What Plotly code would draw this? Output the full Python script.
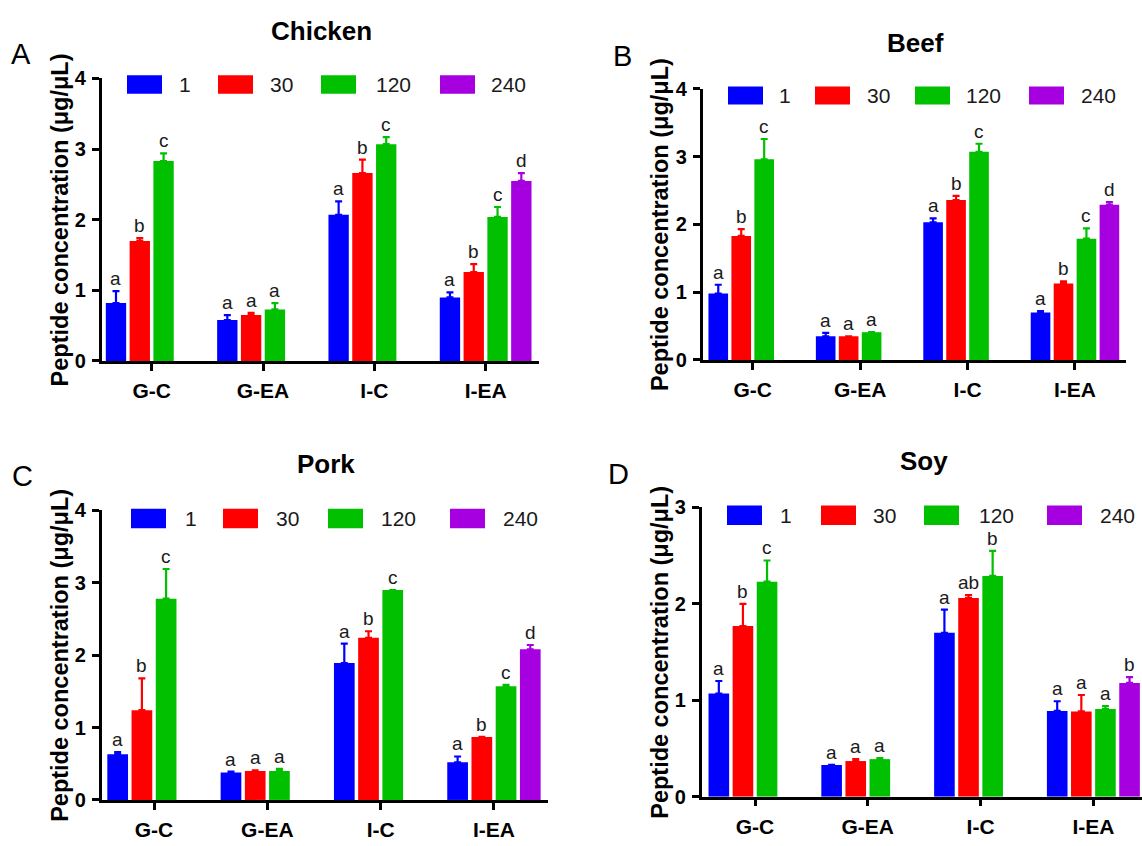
import plotly.graph_objects as go

W, H = 1142, 846
FONT = "Liberation Sans, Arial, sans-serif"

categories = ["G-C", "G-EA", "I-C", "I-EA"]
series_names = ["1", "30", "120", "240"]
series_colors = ["#0000FF", "#FF0000", "#00C000", "#A600E0"]

# ---- Chicken: means, upper SD, letters ----
chicken_1 = [0.82, 0.58, 2.07, 0.90]
chicken_30 = [1.70, 0.65, 2.66, 1.26]
chicken_120 = [2.83, 0.73, 3.07, 2.04]
chicken_240 = [None, None, None, 2.55]
chicken_sd_1 = [0.17, 0.07, 0.19, 0.07]
chicken_sd_30 = [0.04, 0.03, 0.19, 0.11]
chicken_sd_120 = [0.11, 0.09, 0.10, 0.14]
chicken_sd_240 = [0, 0, 0, 0.11]
chicken_let_1 = ["a", "a", "a", "a"]
chicken_let_30 = ["b", "a", "b", "b"]
chicken_let_120 = ["c", "a", "c", "c"]
chicken_let_240 = ["", "", "", "d"]

# ---- Beef ----
beef_1 = [0.98, 0.35, 2.03, 0.70]
beef_30 = [1.83, 0.35, 2.36, 1.13]
beef_120 = [2.96, 0.41, 3.07, 1.79]
beef_240 = [None, None, None, 2.29]
beef_sd_1 = [0.13, 0.05, 0.06, 0.02]
beef_sd_30 = [0.10, 0.0, 0.06, 0.03]
beef_sd_120 = [0.30, 0.0, 0.12, 0.15]
beef_sd_240 = [0, 0, 0, 0.04]
beef_let_1 = ["a", "a", "a", "a"]
beef_let_30 = ["b", "a", "b", "b"]
beef_let_120 = ["c", "a", "c", "c"]
beef_let_240 = ["", "", "", "d"]

# ---- Pork ----
pork_1 = [0.63, 0.38, 1.89, 0.52]
pork_30 = [1.24, 0.40, 2.24, 0.87]
pork_120 = [2.78, 0.40, 2.90, 1.57]
pork_240 = [None, None, None, 2.08]
pork_sd_1 = [0.03, 0.01, 0.27, 0.08]
pork_sd_30 = [0.44, 0.01, 0.09, 0.0]
pork_sd_120 = [0.41, 0.03, 0.0, 0.02]
pork_sd_240 = [0, 0, 0, 0.06]
pork_let_1 = ["a", "a", "a", "a"]
pork_let_30 = ["b", "a", "b", "b"]
pork_let_120 = ["c", "a", "c", "c"]
pork_let_240 = ["", "", "", "d"]

# ---- Soy ----
soy_1 = [1.07, 0.33, 1.70, 0.89]
soy_30 = [1.77, 0.37, 2.06, 0.885]
soy_120 = [2.23, 0.39, 2.29, 0.91]
soy_240 = [None, None, None, 1.18]
soy_sd_1 = [0.13, 0.0, 0.24, 0.10]
soy_sd_30 = [0.23, 0.02, 0.03, 0.17]
soy_sd_120 = [0.22, 0.01, 0.26, 0.03]
soy_sd_240 = [0, 0, 0, 0.06]
soy_let_1 = ["a", "a", "a", "a"]
soy_let_30 = ["b", "a", "ab", "a"]
soy_let_120 = ["c", "a", "b", "a"]
soy_let_240 = ["", "", "", "b"]

panel_titles = ["Chicken", "Beef", "Pork", "Soy"]
panel_letters = ["A", "B", "C", "D"]
y_ticks = [[0, 1, 2, 3, 4], [0, 1, 2, 3, 4], [0, 1, 2, 3, 4], [0, 1, 2, 3]]

BARGAP = 0.145
GROUPGAP = 0.145


def px(x):
    return x / W


def py(y):
    return 1 - y / H


# Pixel layout of each panel: plot box, x range, and decoration anchors
layouts = [
    dict(x0=101.7, x1=539.3, y0=359.3, y1=69.3, xr=[-0.449, 3.482],
         title=(321, 21), letter=(21, 44),
         sw=[127, 218, 321, 440], tx=[177, 268, 374, 489], ly=(66, 85)),
    dict(x0=702.7, x1=1126.0, y0=358.3, y1=79.9, xr=[-0.4655, 3.475],
         title=(915, 33), letter=(622, 46),
         sw=[728, 815, 915, 1029], tx=[777, 865, 964, 1079], ly=(77.5, 96)),
    dict(x0=101.7, x1=548.0, y0=810.0, y1=512.7, xr=[-0.4616, 3.477],
         title=(326, 465), letter=(22, 477),
         sw=[131, 223, 328, 450], tx=[183, 274, 379, 501], ly=(511, 531)),
    dict(x0=701.7, x1=1142.0, y0=806.7, y1=509.7, xr=[-0.4725, 3.431],
         title=(924, 462), letter=(619, 475),
         sw=[727, 821, 924, 1047], tx=[778, 871, 977, 1098], ly=(507.6, 527.6)),
]

panel_means = [
    [chicken_1, chicken_30, chicken_120, chicken_240],
    [beef_1, beef_30, beef_120, beef_240],
    [pork_1, pork_30, pork_120, pork_240],
    [soy_1, soy_30, soy_120, soy_240],
]
panel_sds = [
    [chicken_sd_1, chicken_sd_30, chicken_sd_120, chicken_sd_240],
    [beef_sd_1, beef_sd_30, beef_sd_120, beef_sd_240],
    [pork_sd_1, pork_sd_30, pork_sd_120, pork_sd_240],
    [soy_sd_1, soy_sd_30, soy_sd_120, soy_sd_240],
]
panel_lets = [
    [chicken_let_1, chicken_let_30, chicken_let_120, chicken_let_240],
    [beef_let_1, beef_let_30, beef_let_120, beef_let_240],
    [pork_let_1, pork_let_30, pork_let_120, pork_let_240],
    [soy_let_1, soy_let_30, soy_let_120, soy_let_240],
]

fig = go.Figure()
annotations = []
shapes = []
layout_axes = {}

n_series = len(series_names)
slot = (1 - BARGAP) / n_series

for k in range(4):
    L = layouts[k]
    sfx = "" if k == 0 else str(k + 1)
    xa, ya = "x" + sfx, "y" + sfx

    for i in range(n_series):
        means = panel_means[k][i]
        sds = panel_sds[k][i]
        fig.add_trace(go.Bar(
            x=categories, y=means, name=series_names[i],
            marker=dict(color=series_colors[i], line=dict(width=0)),
            error_y=dict(type="data", symmetric=False, array=sds,
                         arrayminus=[0] * len(sds), color=series_colors[i],
                         thickness=2.2, width=3.5),
            xaxis=xa, yaxis=ya, showlegend=False, offsetgroup=str(i),
        ))
        # significance letters above each error bar
        for c, (m, s, t) in enumerate(zip(means, sds, panel_lets[k][i])):
            if m is None or not t:
                continue
            xc = c - (1 - BARGAP) / 2 + (i + 0.5) * slot
            annotations.append(dict(
                x=xc, y=m + s, xref=xa, yref=ya, text=t, showarrow=False,
                xanchor="center", yanchor="bottom", yshift=0,
                font=dict(family=FONT, size=19, color="#1a1a1a"),
            ))

    yt = y_ticks[k]
    layout_axes["xaxis" + sfx] = dict(
        domain=[px(L["x0"]), px(L["x1"])], anchor=ya, type="category",
        range=L["xr"], showline=True, linecolor="black", linewidth=2.5,
        ticks="outside", ticklen=7, tickwidth=2.5, tickcolor="black",
        showgrid=False, zeroline=False, ticklabelstandoff=2,
        tickfont=dict(family=FONT, size=21, color="black", weight="bold"),
    )
    layout_axes["yaxis" + sfx] = dict(
        domain=[py(L["y0"]), py(L["y1"])], anchor=xa,
        range=[yt[0], yt[-1]], tickvals=yt, showline=True, linecolor="black",
        linewidth=2.5, ticks="outside", ticklen=7, tickwidth=2.5,
        tickcolor="black", showgrid=False, zeroline=False, ticklabelstandoff=2,
        tickfont=dict(family=FONT, size=20, color="black", weight="bold"),
    )

    # panel title
    annotations.append(dict(
        x=px(L["title"][0]), y=py(L["title"][1]), xref="paper", yref="paper",
        text=panel_titles[k], showarrow=False, xanchor="center", yanchor="middle",
        font=dict(family=FONT, size=26, color="black", weight="bold"),
    ))
    # panel letter
    annotations.append(dict(
        x=px(L["letter"][0]), y=py(L["letter"][1]), xref="paper", yref="paper",
        text=panel_letters[k], showarrow=False, xanchor="center", yanchor="middle",
        font=dict(family=FONT, size=29, color="black"),
    ))
    # y axis title
    annotations.append(dict(
        x=px(L["x0"] - 42), y=py((L["y0"] + L["y1"]) / 2), xref="paper",
        yref="paper", text="Peptide concentration (μg/μL)", showarrow=False,
        textangle=-90, xanchor="center", yanchor="middle",
        font=dict(family=FONT, size=23.5, color="black", weight="bold"),
    ))
    # legend row
    ly0, ly1 = L["ly"]
    for i in range(n_series):
        shapes.append(dict(
            type="rect", xref="paper", yref="paper",
            x0=px(L["sw"][i]), x1=px(L["sw"][i] + 35),
            y0=py(ly1), y1=py(ly0),
            fillcolor=series_colors[i], line=dict(width=0),
        ))
        annotations.append(dict(
            x=px(L["tx"][i]), y=py((ly0 + ly1) / 2), xref="paper", yref="paper",
            text=series_names[i], showarrow=False, xanchor="left",
            yanchor="middle",
            font=dict(family=FONT, size=21, color="#1a1a1a"),
        ))

fig.update_layout(
    width=W, height=H, margin=dict(l=0, r=0, t=0, b=0),
    paper_bgcolor="white", plot_bgcolor="white",
    barmode="group", bargap=BARGAP, bargroupgap=GROUPGAP,
    annotations=annotations, shapes=shapes,
    **layout_axes,
)

fig.write_html("out.html")
